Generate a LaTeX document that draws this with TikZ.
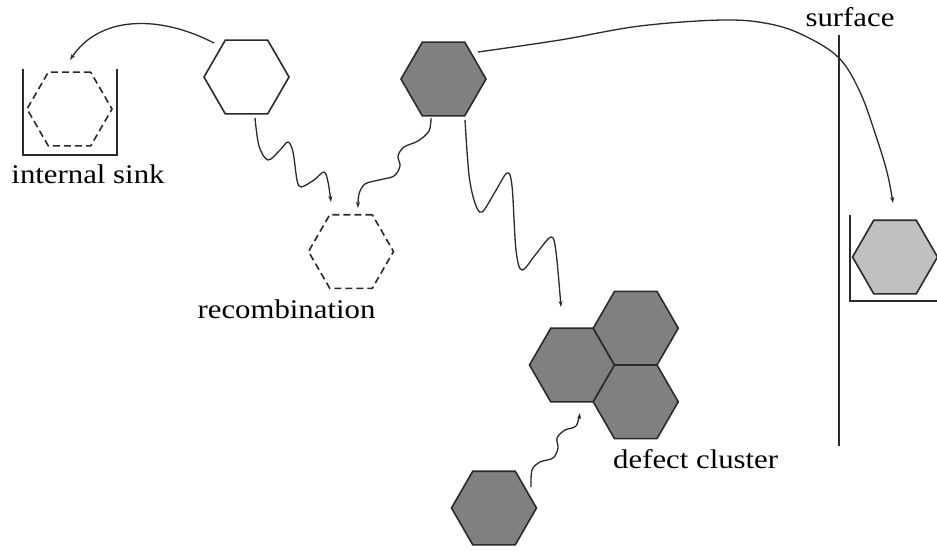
\documentclass[tikz,border=0pt]{standalone}
\usepackage{fontspec}
\setmainfont{Liberation Serif}[FakeStretch=1.14]
\usetikzlibrary{shapes.geometric,arrows.meta}

\definecolor{edge}{HTML}{2A2A2A}
\definecolor{defect}{HTML}{808080}
\definecolor{trapped}{HTML}{C0C0C0}

\tikzset{
  hexa/.style={regular polygon, regular polygon sides=6, minimum size=85pt,
    inner sep=0pt, outer sep=0pt, draw=edge, line width=1.6pt, line join=miter},
  vacancy/.style={hexa, fill=white},
  interstitial/.style={hexa, fill=defect},
  absorbed/.style={hexa, fill=trapped},
  ghost/.style={hexa, dash pattern=on 7pt off 4pt, line width=1.6pt},
  wall/.style={draw=edge, line width=2pt},
  conn/.style={draw=edge, line width=1.3pt, -{Stealth[length=6pt,width=4pt]}},
  lbl/.style={font=\fontsize{27}{31}\selectfont, inner sep=0pt}
}

\begin{document}
\begin{tikzpicture}[x=1pt,y=-1pt]
  \useasboundingbox (0,0) rectangle (937,550);

  % internal sink holding a dashed defect
  \node[ghost] (sink) at (69.5,109) {};
  \draw[wall] (23,69) -- (23,155) -- (117,155) -- (117,69);
  \node[lbl, anchor=base] (sinklbl) at (88,183) {internal sink};

  % mobile defects
  \node[vacancy] (vac) at (246.5,77) {};
  \node[interstitial] (int) at (443.5,79) {};

  % recombination site
  \node[ghost] (rec) at (351,251.5) {};
  \node[lbl, anchor=base] (reclbl) at (286.5,318) {recombination};

  % defect cluster
  \node[interstitial] (c1) at (572,365) {};
  \node[interstitial] (c2) at (635.75,328.2) {};
  \node[interstitial] (c3) at (635.75,401.8) {};
  \node[lbl, anchor=base west] (cluslbl) at (613,468) {defect cluster};

  % lone defect joining the cluster
  \node[interstitial] (lone) at (494,508) {};

  % surface and the defect trapped there
  \draw[wall] (839,35) coordinate (surftop) -- (839,446) coordinate (surfbot);
  \node[lbl, anchor=base] (surflbl) at (850,26) {surface};
  \node[absorbed] (surfdef) at (895,257) {};
  \draw[wall] (850,215) -- (850,301) -- (937,301);

  % end points of the connectors
  \coordinate (vacA) at (214,43);
  \coordinate (sinkIn) at (70,60);
  \coordinate (vacB) at (255,118);
  \coordinate (recA) at (331,202);
  \coordinate (intA) at (431,118);
  \coordinate (recB) at (358,208);
  \coordinate (intB) at (465,120);
  \coordinate (clusA) at (561,307);
  \coordinate (loneA) at (531,487);
  \coordinate (clusB) at (580,413);
  \coordinate (intC) at (478,52);
  \coordinate (surfIn) at (893,203);

  % long jumps
  \draw[conn] (vacA) .. controls (160,15) and (100,15) .. (sinkIn);
  \draw[conn] plot[smooth, tension=0.6] coordinates {(intC) (560,40) (640,26) (723,20) (770,24) (805,36) (839,58) (860,92) (876,136) (887,172) (surfIn)};

  % random-walk migration
  \draw[conn] plot[smooth, tension=0.55] coordinates {(vacB) (259,146) (268,160) (280,150) (288,142) (293,152) (297,180) (301,187) (314,180) (324,172) (328,182) (recA)};
  \draw[conn] plot[smooth, tension=0.55] coordinates {(intA) (429,131) (418,141) (404,147) (398,156) (400,166) (394,176) (379,180) (365,184) (359,194) (recB)};
  \draw[conn] plot[smooth, tension=0.55] coordinates {(intB) (469,175) (475,203) (482,212) (495,192) (507,173) (512,186) (516,250) (522,270) (536,254) (551,237) (556,252) (clusA)};
  \draw[conn] plot[smooth, tension=0.55] coordinates {(loneA) (532,470) (540,462) (553,458) (558,448) (557,438) (565,430) (576,426) (clusB)};
\end{tikzpicture}
\end{document}
